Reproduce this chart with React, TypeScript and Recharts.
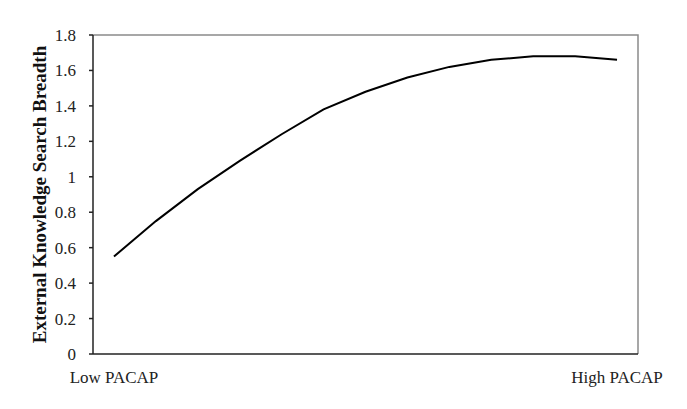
import { LineChart, Line, XAxis, YAxis, Label, ReferenceArea } from 'recharts';

// categories along the PACAP axis (only the two ends are labelled)
const levels = ['Low PACAP', '', '', '', '', '', '', '', '', '', '', '', 'High PACAP'];
// External knowledge search breadth
const breadth = [0.55, 0.75, 0.93, 1.09, 1.24, 1.38, 1.48, 1.56, 1.62, 1.66, 1.68, 1.68, 1.66];
const yTicks = [0, 0.2, 0.4, 0.6, 0.8, 1, 1.2, 1.4, 1.6, 1.8];

const FONT = '"Liberation Serif", "Times New Roman", serif';

export default function App() {
    const data = levels.map((name, i) => ({ key: `c${i}`, name, value: breadth[i] }));

    return (
        <div style={{ position: 'absolute', left: 0, top: 0, width: 687, height: 409, background: '#fff' }}>
            <LineChart
                width={687}
                height={409}
                data={data}
                margin={{ top: 35, right: 49, bottom: 0, left: 0 }}
            >
                {/* grey frame: only top and right edges are stroked */}
                <ReferenceArea
                    y1={0}
                    y2={1.8}
                    fill="none"
                    stroke="#8a8a8a"
                    strokeWidth={1.5}
                    strokeDasharray="864 864"
                />
                <XAxis
                    dataKey="key"
                    scale="band"
                    height={55}
                    interval={0}
                    tickLine={false}
                    tickSize={0}
                    tickMargin={17}
                    tickFormatter={(_v: string, i: number) => levels[i]}
                    stroke="#222"
                    strokeWidth={1.5}
                    tick={{ fill: '#222', fontSize: 17, fontFamily: FONT }}
                />
                <YAxis
                    width={93}
                    domain={[0, 1.8]}
                    ticks={yTicks}
                    interval={0}
                    tickSize={4}
                    tickMargin={13}
                    stroke="#222"
                    strokeWidth={1.5}
                    tick={{ fill: '#222', fontSize: 17, fontFamily: FONT }}
                >
                    <Label
                        content={() => (
                            <text
                                x={46}
                                y={194.5}
                                transform="rotate(-90, 46, 194.5)"
                                textAnchor="middle"
                                fontFamily={FONT}
                                fontWeight="bold"
                                fontSize={19}
                                fill="#111"
                            >
                                External Knowledge Search Breadth
                            </text>
                        )}
                    />
                </YAxis>
                <Line
                    type="linear"
                    dataKey="value"
                    stroke="#000"
                    strokeWidth={2}
                    dot={false}
                    isAnimationActive={false}
                />
            </LineChart>
        </div>
    );
}
